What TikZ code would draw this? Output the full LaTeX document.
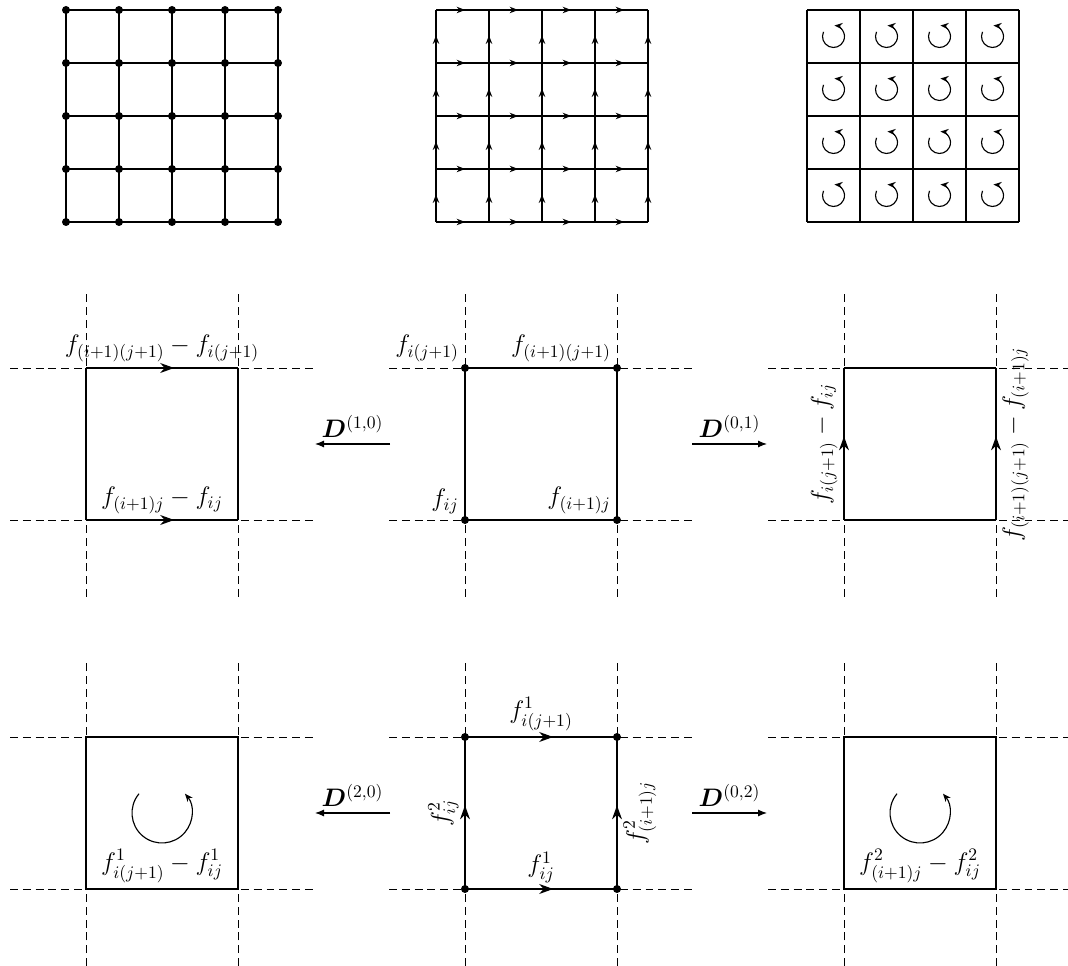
\documentclass[tikz,border=0pt]{standalone}
\usepackage{amsmath,amssymb,bm}
\usetikzlibrary{arrows.meta,positioning,decorations.markings}

\begin{document}
\begin{tikzpicture}[x=0.02cm,y=0.02cm,font=\Large,
 edge/.style={line width=0.65pt},
 guide/.style={line width=0.45pt,dash pattern=on 4.5pt off 2.8pt},
 dot/.style={circle,fill,inner sep=0pt,minimum size=0.16cm},
 midarrow/.style={postaction={decorate},decoration={markings,mark=at position #1 with {\arrow{Stealth[length=2.8mm,width=2mm]}}}},
 midarrow/.default=0.58,
 gridarrow/.style={postaction={decorate},decoration={markings,mark=at position #1 with {\arrow{Stealth[length=1.7mm,width=1.3mm]}}}},
 gridarrow/.default=0.55,
 turn/.style={line width=0.65pt,-{Stealth[length=1.6mm,width=1.3mm]}},
 map/.style={line width=0.6pt,-{Latex[length=1.8mm,width=1.4mm]}}]
\useasboundingbox (0,0) rectangle (1068,966);

% top row: vertices, edges, faces
\foreach \k in {0,...,4}{
 \draw[edge] (66+53*\k,744) -- (66+53*\k,956);
 \draw[edge] (66,744+53*\k) -- (278,744+53*\k);}
\foreach \i in {0,...,4} \foreach \j in {0,...,4}
 \node[dot] (v\i\j) at (66+53*\i,744+53*\j) {};
\foreach \k in {0,...,4} \foreach \m in {0,...,3}{
 \draw[edge,gridarrow] (436+53*\m,744+53*\k) -- ++(53,0);
 \draw[edge,gridarrow=0.52] (436+53*\k,744+53*\m) -- ++(0,53);}
\foreach \k in {0,...,4}{
 \draw[edge] (807+53*\k,744) -- (807+53*\k,956);
 \draw[edge] (807,744+53*\k) -- (1019,744+53*\k);}
\foreach \i in {0,...,3} \foreach \j in {0,...,3}
 \draw[turn] (833.5+53*\i,770.5+53*\j) ++(155:11) arc[start angle=155,end angle=445,radius=11];

% cells with dashed neighbours
\foreach \x/\y/\n in {86/446/a,465/446/b,844/446/c,86/77/d,465/77/e,844/77/f}{
 \draw[guide] (\x-76,\y) -- (\x+228,\y) (\x-76,\y+152) -- (\x+228,\y+152)
  (\x,\y-77) -- (\x,\y+229) (\x+152,\y-77) -- (\x+152,\y+229);
 \coordinate (\n1) at (\x,\y); \coordinate (\n2) at (\x+152,\y);
 \coordinate (\n3) at (\x+152,\y+152); \coordinate (\n4) at (\x,\y+152);}

% D^(1,0)
\draw[edge] (a2) -- (a3) (a4) -- (a1);
\draw[edge,midarrow] (a1) -- node[above] (la1) {$f_{(i+1)j}-f_{ij}$} (a2);
\draw[edge,midarrow] (a4) -- node[above] (la2) {$f_{(i+1)(j+1)}-f_{i(j+1)}$} (a3);

% values on vertices
\draw[edge] (b1) -- (b2) -- (b3) -- (b4) -- cycle;
\foreach \c in {1,...,4} \node[dot] (pb\c) at (b\c) {};
\node[above left] (lb1) at (b1) {$f_{ij}$};
\node[above left] (lb2) at (b2) {$f_{(i+1)j}$};
\node[above left] (lb3) at (b3) {$f_{(i+1)(j+1)}$};
\node[above left] (lb4) at (b4) {$f_{i(j+1)}$};

% D^(0,1)
\draw[edge] (c1) -- (c2) (c3) -- (c4);
\draw[edge,midarrow=0.55] (c1) -- node[rotate=90,anchor=south] (lc1) {$f_{i(j+1)}-f_{ij}$} (c4);
\draw[edge,midarrow=0.55] (c2) -- node[rotate=90,anchor=north] (lc2) {$f_{(i+1)(j+1)}-f_{(i+1)j}$} (c3);

\coordinate (m1s) at (390,522); \coordinate (m1t) at (315,522);
\coordinate (m2s) at (692,522); \coordinate (m2t) at (767,522);
\draw[map] (m1s) -- node[above] (dm1) {$\bm{D}^{(1,0)}$} (m1t);
\draw[map] (m2s) -- node[above] (dm2) {$\bm{D}^{(0,1)}$} (m2t);

% D^(2,0)
\draw[edge] (d1) -- node[above] (ld) {$f^1_{i(j+1)}-f^1_{ij}$} (d2) -- (d3) -- (d4) -- cycle;
\draw[turn] (162,153) ++(140:30) arc[start angle=140,end angle=400,radius=30];

% values on edges
\draw[edge,midarrow] (e1) -- node[above] (le1) {$f^1_{ij}$} (e2);
\draw[edge,midarrow] (e4) -- node[above] (le2) {$f^1_{i(j+1)}$} (e3);
\draw[edge,midarrow=0.55] (e1) -- node[rotate=90,anchor=south] (le3) {$f^2_{ij}$} (e4);
\draw[edge,midarrow=0.55] (e2) -- node[rotate=90,anchor=north] (le4) {$f^2_{(i+1)j}$} (e3);
\foreach \c in {1,...,4} \node[dot] (pe\c) at (e\c) {};

% D^(0,2)
\draw[edge] (f1) -- node[above] (lf) {$f^2_{(i+1)j}-f^2_{ij}$} (f2) -- (f3) -- (f4) -- cycle;
\draw[turn] (920,153) ++(140:30) arc[start angle=140,end angle=400,radius=30];

\coordinate (m3s) at (390,153); \coordinate (m3t) at (315,153);
\coordinate (m4s) at (692,153); \coordinate (m4t) at (767,153);
\draw[map] (m3s) -- node[above] (dm3) {$\bm{D}^{(2,0)}$} (m3t);
\draw[map] (m4s) -- node[above] (dm4) {$\bm{D}^{(0,2)}$} (m4t);
\end{tikzpicture}
\end{document}
